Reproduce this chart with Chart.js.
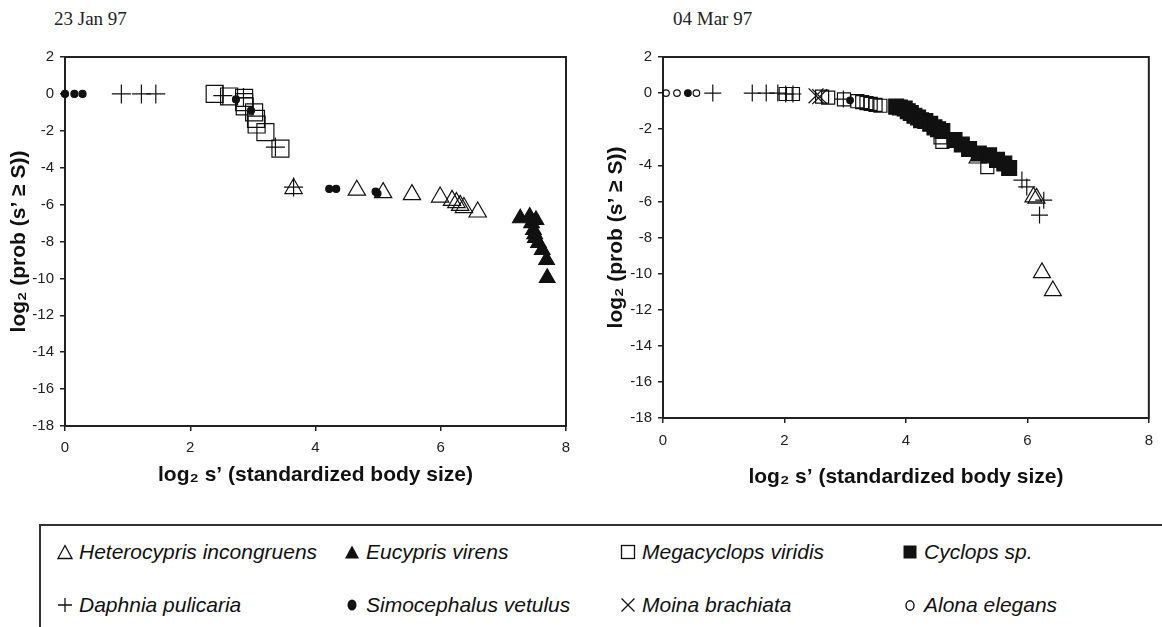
<!DOCTYPE html>
<html>
<head>
<meta charset="utf-8">
<script src="https://cdn.jsdelivr.net/npm/chart.js@4.4.1/dist/chart.umd.min.js"></script>
<style>
    html, body { margin: 0; padding: 0; background: #fff; }
    body { width: 1162px; height: 627px; position: relative; overflow: hidden; font-family: "Liberation Sans", Arial, sans-serif; }
    canvas { position: absolute; top: 0; }
    #janChart { left: 0; }
    #marChart { left: 580px; }
    .date { position: absolute; top: 8px; font-family: "Liberation Serif", "Times New Roman", serif; font-size: 19px; color: #222; }
    .legend-box { position: absolute; left: 39px; top: 524px; width: 1200px; height: 200px; border: 2px solid #333; box-sizing: border-box; }
    .item { position: absolute; font-size: 21px; line-height: 22px; color: #111; white-space: nowrap; display: flex; align-items: center; }
    .item svg { margin-right: 6px; }
    .item i { font-style: italic; }
</style>
</head>
<body>
<div class="date" style="left:54px">23 Jan 97</div>
<div class="date" style="left:673px">04 Mar 97</div>
<canvas id="janChart" width="580" height="500"></canvas>
<canvas id="marChart" width="582" height="500"></canvas>

<div class="legend-box"></div>
<div class="item" style="left:57px;top:541px">
    <svg width="16" height="16"><polygon points="8,1.5 15,14.5 1,14.5" fill="none" stroke="#111" stroke-width="1.3"/></svg><i>Heterocypris incongruens</i></div>
<div class="item" style="left:344px;top:541px">
    <svg width="16" height="16"><polygon points="8,1.5 15,14.5 1,14.5" fill="#111"/></svg><i>Eucypris virens</i></div>
<div class="item" style="left:620px;top:541px">
    <svg width="16" height="16"><rect x="1.5" y="1.5" width="13" height="13" fill="none" stroke="#111" stroke-width="1.3"/></svg><i>Megacyclops viridis</i></div>
<div class="item" style="left:902px;top:541px">
    <svg width="16" height="16"><rect x="1.5" y="1.5" width="13" height="13" fill="#111"/></svg><i>Cyclops sp.</i></div>
<div class="item" style="left:57px;top:594px">
    <svg width="16" height="16"><path d="M1 8H15M8 1V15" stroke="#111" stroke-width="1.3"/></svg><i>Daphnia pulicaria</i></div>
<div class="item" style="left:344px;top:594px">
    <svg width="16" height="16"><ellipse cx="8" cy="8" rx="4.5" ry="5.5" fill="#111"/></svg><i>Simocephalus vetulus</i></div>
<div class="item" style="left:620px;top:594px">
    <svg width="16" height="16"><path d="M1.5 1.5L14.5 14.5M14.5 1.5L1.5 14.5" stroke="#111" stroke-width="1.3"/></svg><i>Moina brachiata</i></div>
<div class="item" style="left:902px;top:594px">
    <svg width="16" height="16"><ellipse cx="8" cy="8.5" rx="4" ry="4.8" fill="none" stroke="#111" stroke-width="1.4"/></svg><i>Alona elegans</i></div>

<script>
// axis ranges
const xRange = [0, 8];
const yRange = [-18, 2];
const tickStep = 2;

// 23 Jan 97: [log2 s', log2 prob(s' >= S)]
const janHeterocypris = [[3.65, -5.13], [4.66, -5.22], [5.08, -5.35], [5.54, -5.46], [5.99, -5.59],
    [6.18, -5.77], [6.25, -5.89], [6.31, -6.04], [6.37, -6.16], [6.59, -6.4]];
const janEucypris = [[7.27, -6.74], [7.42, -6.65], [7.45, -7.0], [7.52, -6.83], [7.48, -7.37], [7.5, -7.6],
    [7.51, -7.8], [7.56, -8.08], [7.62, -8.46], [7.69, -9.0], [7.7, -9.97]];
const janMegacyclops = [[2.39, 0], [2.62, -0.14], [2.86, -0.22], [2.86, -0.45], [2.87, -0.68], [3.02, -1.0],
    [3.05, -1.35], [3.06, -1.66], [3.2, -2.07], [3.44, -2.97]];
const janDaphnia = [[0.9, 0], [1.22, 0], [1.45, 0], [2.52, -0.09], [2.85, -0.2], [3.36, -2.88], [3.65, -5.05]];
const janSimocephalus = [[0, 0], [0.15, 0], [0.28, 0], [2.73, -0.3], [2.97, -0.9], [4.22, -5.15], [4.33, -5.15],
    [4.96, -5.3], [4.99, -5.4]];

// 04 Mar 97
const marHeterocypris = [[5.18, -3.6], [6.1, -5.76], [6.15, -5.82], [6.24, -9.95], [6.42, -10.95]];
const marMegacyclops = [[2.02, -0.05], [2.14, -0.05], [2.62, -0.2], [2.72, -0.25], [2.98, -0.35], [3.2, -0.45],
    [3.28, -0.5], [3.35, -0.55], [3.42, -0.6], [3.5, -0.65], [3.58, -0.7], [4.57, -2.45], [4.6, -2.7], [5.34, -4.1]];
const marCyclops = [[3.84, -0.75], [3.9, -0.8], [3.98, -0.85], [4.03, -1.0], [4.08, -1.1], [4.14, -1.25], [4.2, -1.35],
    [4.25, -1.5], [4.32, -1.55], [4.4, -1.7], [4.47, -1.9], [4.53, -2.0], [4.6, -2.1], [4.8, -2.6], [4.92, -2.85],
    [5.04, -3.1], [5.2, -3.35], [5.37, -3.45], [5.5, -3.7], [5.62, -3.9], [5.7, -4.15]];
const marDaphnia = [[0.82, 0], [1.47, 0], [1.7, 0], [1.89, 0], [2.02, -0.05], [2.14, -0.05], [2.97, -0.33],
    [5.91, -4.82], [5.99, -5.2], [6.27, -5.93], [6.2, -6.76]];
const marSimocephalus = [[0.41, 0], [3.08, -0.4]];
const marMoina = [[2.52, -0.15], [2.58, -0.2]];
const marAlona = [[0.05, 0], [0.23, 0], [0.55, 0]];

const INK = '#111';
const FONT = '"Liberation Sans", Arial, sans-serif';

// first dataset is drawn on top
function series(data, style, radius, filled) {
    return {
        data: data,
        pointStyle: style,
        pointRadius: radius,
        pointHoverRadius: radius,
        pointBorderWidth: 1.2,
        borderColor: INK,
        backgroundColor: filled ? INK : 'rgba(0,0,0,0)',
        showLine: false,
        clip: false
    };
}

const framePlugin = {
    id: 'frame',
    beforeDatasetsDraw(chart) {
        const { ctx, chartArea: a } = chart;
        ctx.save();
        ctx.strokeStyle = '#222';
        ctx.lineWidth = 2;
        ctx.strokeRect(a.left, a.top, a.right - a.left, a.bottom - a.top);
        ctx.restore();
    }
};

function makeChart(id, datasets, box) {
    new Chart(document.getElementById(id), {
        type: 'scatter',
        data: { datasets: datasets },
        options: {
            responsive: false,
            animation: false,
            events: [],
            layout: { padding: { left: box.padLeft, top: 57, right: box.padRight, bottom: box.padBottom } },
            plugins: { legend: { display: false }, tooltip: { enabled: false } },
            scales: {
                x: {
                    type: 'linear', min: xRange[0], max: xRange[1],
                    ticks: { stepSize: tickStep, color: '#222', padding: box.xTickPad, font: { family: FONT, size: 15 } },
                    grid: { drawOnChartArea: false, drawTicks: true, tickLength: 5, color: '#222', lineWidth: 1.5 },
                    border: { display: false },
                    title: { display: true, text: 'log\u2082 s\u2019 (standardized body size)', color: INK,
                        padding: { top: 4, bottom: 4 }, font: { family: FONT, size: 21, weight: 'bold' } },
                    afterFit(s) { s.height = box.xHeight; }
                },
                y: {
                    type: 'linear', min: yRange[0], max: yRange[1],
                    ticks: { stepSize: tickStep, color: '#222', padding: 6, font: { family: FONT, size: 15 } },
                    grid: { drawOnChartArea: false, drawTicks: true, tickLength: 5, color: '#222', lineWidth: 1.5 },
                    border: { display: false },
                    title: { display: true, text: 'log\u2082 (prob (s\u2019 \u2265 S))', color: INK,
                        padding: { top: 4, bottom: 4 }, font: { family: FONT, size: 21, weight: 'bold' } },
                    afterFit(s) { s.width = box.yWidth; }
                }
            }
        },
        plugins: [framePlugin]
    });
}

makeChart('janChart', [
    series(janSimocephalus, 'circle', 3.5, true),
    series(janEucypris, 'triangle', 9, true),
    series(janDaphnia, 'cross', 9.5, false),
    series(janMegacyclops, 'rect', 12, false),
    series(janHeterocypris, 'triangle', 10, false)
], { padLeft: 3, padRight: 14, padBottom: 8, yWidth: 62, xHeight: 66, xTickPad: 8 });

makeChart('marChart', [
    series(marSimocephalus, 'circle', 3.3, true),
    series(marAlona, 'circle', 3.3, false),
    series(marCyclops, 'rect', 10.5, true),
    series(marDaphnia, 'cross', 8.5, false),
    series(marMoina, 'crossRot', 10.5, false),
    series(marMegacyclops, 'rect', 9.2, false),
    series(marHeterocypris, 'triangle', 9.8, false)
], { padLeft: 20, padRight: 9, padBottom: 6, yWidth: 63, xHeight: 76, xTickPad: 9 });
</script>
</body>
</html>
